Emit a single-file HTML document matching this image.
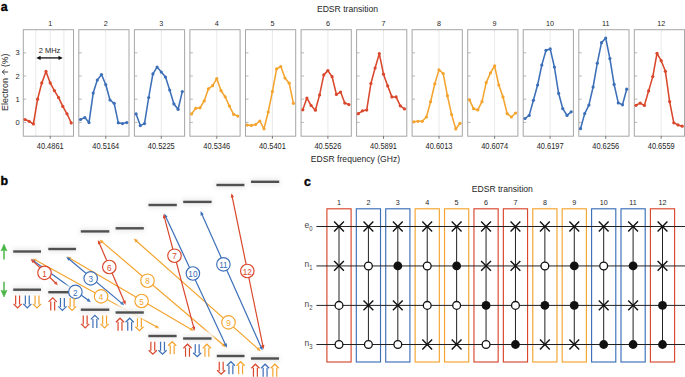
<!DOCTYPE html>
<html><head><meta charset="utf-8"><style>
html,body{margin:0;padding:0;background:#fff;width:685px;height:377px;overflow:hidden}
svg{display:block;font-family:"Liberation Sans", sans-serif}
</style></head><body>
<svg width="685" height="377" viewBox="0 0 685 377">
<text x="0.8" y="10.6" font-size="12.4" font-weight="bold" fill="#000" stroke="#000" stroke-width="0.35">a</text>
<text x="347.5" y="11.9" font-size="8.6" fill="#262626" text-anchor="middle">EDSR transition</text>
<text x="355.5" y="161.6" font-size="8.6" fill="#262626" text-anchor="middle">EDSR frequency (GHz)</text>
<text transform="translate(8.4,110.9) rotate(-90)" font-size="9.0" fill="#262626">Electron</text><text transform="translate(8.4,53.6) rotate(-90)" font-size="8.7" fill="#262626" text-anchor="end">(%)</text><path d="M8.1,72 H2.4 M4.8,69.6 L2.2,72 L4.8,74.4" fill="none" stroke="#262626" stroke-width="0.85"/>
<text x="19.6" y="124.90" font-size="7.5" fill="#262626" text-anchor="end">0</text>
<text x="19.6" y="101.70" font-size="7.5" fill="#262626" text-anchor="end">1</text>
<text x="19.6" y="78.50" font-size="7.5" fill="#262626" text-anchor="end">2</text>
<text x="19.6" y="55.30" font-size="7.5" fill="#262626" text-anchor="end">3</text>
<line x1="50.2" y1="29.7" x2="50.2" y2="136.2" stroke="#e3e3e3" stroke-width="0.8"/>
<line x1="35.8" y1="29.7" x2="35.8" y2="136.2" stroke="#e3e3e3" stroke-width="0.8"/>
<line x1="63.9" y1="29.7" x2="63.9" y2="136.2" stroke="#e3e3e3" stroke-width="0.8"/>
<rect x="23.3" y="29.7" width="50.2" height="106.5" fill="none" stroke="#a6a6a6" stroke-width="1"/>
<line x1="23.3" y1="122.4" x2="26.3" y2="122.4" stroke="#a6a6a6" stroke-width="0.8"/>
<line x1="23.3" y1="99.2" x2="26.3" y2="99.2" stroke="#a6a6a6" stroke-width="0.8"/>
<line x1="23.3" y1="76.0" x2="26.3" y2="76.0" stroke="#a6a6a6" stroke-width="0.8"/>
<line x1="23.3" y1="52.8" x2="26.3" y2="52.8" stroke="#a6a6a6" stroke-width="0.8"/>
<line x1="50.2" y1="136.2" x2="50.2" y2="138.79999999999998" stroke="#555" stroke-width="0.8"/>
<text x="50.2" y="26.0" font-size="7.2" fill="#262626" text-anchor="middle">1</text>
<text transform="translate(50.2,149.0) scale(0.9,1)" font-size="8.3" fill="#262626" text-anchor="middle">40.4861</text>
<path d="M25.0,119.5 L29.2,121.3 L33.4,124.0 L37.6,99.2 L41.8,82.9 L46.0,71.4 L50.2,82.9 L54.4,90.6 L58.6,97.6 L62.8,106.4 L67.0,113.8 L71.2,122.9" fill="none" stroke="#d9472c" stroke-width="1.55" stroke-linejoin="round"/>
<circle cx="25.0" cy="119.5" r="1.6" fill="#d9472c"/>
<circle cx="29.2" cy="121.3" r="1.6" fill="#d9472c"/>
<circle cx="33.4" cy="124.0" r="1.6" fill="#d9472c"/>
<circle cx="37.6" cy="99.2" r="1.6" fill="#d9472c"/>
<circle cx="41.8" cy="82.9" r="1.6" fill="#d9472c"/>
<circle cx="46.0" cy="71.4" r="1.6" fill="#d9472c"/>
<circle cx="50.2" cy="82.9" r="1.6" fill="#d9472c"/>
<circle cx="54.4" cy="90.6" r="1.6" fill="#d9472c"/>
<circle cx="58.6" cy="97.6" r="1.6" fill="#d9472c"/>
<circle cx="62.8" cy="106.4" r="1.6" fill="#d9472c"/>
<circle cx="67.0" cy="113.8" r="1.6" fill="#d9472c"/>
<circle cx="71.2" cy="122.9" r="1.6" fill="#d9472c"/>
<line x1="105.8" y1="29.7" x2="105.8" y2="136.2" stroke="#e3e3e3" stroke-width="0.8"/>
<rect x="78.8" y="29.7" width="50.2" height="106.5" fill="none" stroke="#a6a6a6" stroke-width="1"/>
<line x1="78.8" y1="122.4" x2="81.8" y2="122.4" stroke="#a6a6a6" stroke-width="0.8"/>
<line x1="78.8" y1="99.2" x2="81.8" y2="99.2" stroke="#a6a6a6" stroke-width="0.8"/>
<line x1="78.8" y1="76.0" x2="81.8" y2="76.0" stroke="#a6a6a6" stroke-width="0.8"/>
<line x1="78.8" y1="52.8" x2="81.8" y2="52.8" stroke="#a6a6a6" stroke-width="0.8"/>
<line x1="105.8" y1="136.2" x2="105.8" y2="138.79999999999998" stroke="#555" stroke-width="0.8"/>
<text x="105.8" y="26.0" font-size="7.2" fill="#262626" text-anchor="middle">2</text>
<text transform="translate(105.8,149.0) scale(0.9,1)" font-size="8.3" fill="#262626" text-anchor="middle">40.5164</text>
<path d="M80.5,119.5 L84.8,117.6 L89.0,122.6 L93.2,93.1 L97.3,80.1 L101.5,74.5 L105.8,84.7 L110.0,100.0 L114.2,103.3 L118.3,122.8 L122.5,123.6 L126.8,122.6" fill="none" stroke="#3c6fb8" stroke-width="1.55" stroke-linejoin="round"/>
<circle cx="80.5" cy="119.5" r="1.6" fill="#3c6fb8"/>
<circle cx="84.8" cy="117.6" r="1.6" fill="#3c6fb8"/>
<circle cx="89.0" cy="122.6" r="1.6" fill="#3c6fb8"/>
<circle cx="93.2" cy="93.1" r="1.6" fill="#3c6fb8"/>
<circle cx="97.3" cy="80.1" r="1.6" fill="#3c6fb8"/>
<circle cx="101.5" cy="74.5" r="1.6" fill="#3c6fb8"/>
<circle cx="105.8" cy="84.7" r="1.6" fill="#3c6fb8"/>
<circle cx="110.0" cy="100.0" r="1.6" fill="#3c6fb8"/>
<circle cx="114.2" cy="103.3" r="1.6" fill="#3c6fb8"/>
<circle cx="118.3" cy="122.8" r="1.6" fill="#3c6fb8"/>
<circle cx="122.5" cy="123.6" r="1.6" fill="#3c6fb8"/>
<circle cx="126.8" cy="122.6" r="1.6" fill="#3c6fb8"/>
<line x1="161.3" y1="29.7" x2="161.3" y2="136.2" stroke="#e3e3e3" stroke-width="0.8"/>
<rect x="134.4" y="29.7" width="50.2" height="106.5" fill="none" stroke="#a6a6a6" stroke-width="1"/>
<line x1="134.4" y1="122.4" x2="137.4" y2="122.4" stroke="#a6a6a6" stroke-width="0.8"/>
<line x1="134.4" y1="99.2" x2="137.4" y2="99.2" stroke="#a6a6a6" stroke-width="0.8"/>
<line x1="134.4" y1="76.0" x2="137.4" y2="76.0" stroke="#a6a6a6" stroke-width="0.8"/>
<line x1="134.4" y1="52.8" x2="137.4" y2="52.8" stroke="#a6a6a6" stroke-width="0.8"/>
<line x1="161.3" y1="136.2" x2="161.3" y2="138.79999999999998" stroke="#555" stroke-width="0.8"/>
<text x="161.3" y="26.0" font-size="7.2" fill="#262626" text-anchor="middle">3</text>
<text transform="translate(161.3,149.0) scale(0.9,1)" font-size="8.3" fill="#262626" text-anchor="middle">40.5225</text>
<path d="M136.1,113.9 L140.3,125.6 L144.5,123.6 L148.7,97.5 L152.9,73.9 L157.1,67.1 L161.3,72.1 L165.5,77.1 L169.7,90.1 L173.9,103.9 L178.1,109.3 L182.3,91.6" fill="none" stroke="#3c6fb8" stroke-width="1.55" stroke-linejoin="round"/>
<circle cx="136.1" cy="113.9" r="1.6" fill="#3c6fb8"/>
<circle cx="140.3" cy="125.6" r="1.6" fill="#3c6fb8"/>
<circle cx="144.5" cy="123.6" r="1.6" fill="#3c6fb8"/>
<circle cx="148.7" cy="97.5" r="1.6" fill="#3c6fb8"/>
<circle cx="152.9" cy="73.9" r="1.6" fill="#3c6fb8"/>
<circle cx="157.1" cy="67.1" r="1.6" fill="#3c6fb8"/>
<circle cx="161.3" cy="72.1" r="1.6" fill="#3c6fb8"/>
<circle cx="165.5" cy="77.1" r="1.6" fill="#3c6fb8"/>
<circle cx="169.7" cy="90.1" r="1.6" fill="#3c6fb8"/>
<circle cx="173.9" cy="103.9" r="1.6" fill="#3c6fb8"/>
<circle cx="178.1" cy="109.3" r="1.6" fill="#3c6fb8"/>
<circle cx="182.3" cy="91.6" r="1.6" fill="#3c6fb8"/>
<line x1="216.8" y1="29.7" x2="216.8" y2="136.2" stroke="#e3e3e3" stroke-width="0.8"/>
<rect x="189.9" y="29.7" width="50.2" height="106.5" fill="none" stroke="#a6a6a6" stroke-width="1"/>
<line x1="189.9" y1="122.4" x2="192.9" y2="122.4" stroke="#a6a6a6" stroke-width="0.8"/>
<line x1="189.9" y1="99.2" x2="192.9" y2="99.2" stroke="#a6a6a6" stroke-width="0.8"/>
<line x1="189.9" y1="76.0" x2="192.9" y2="76.0" stroke="#a6a6a6" stroke-width="0.8"/>
<line x1="189.9" y1="52.8" x2="192.9" y2="52.8" stroke="#a6a6a6" stroke-width="0.8"/>
<line x1="216.8" y1="136.2" x2="216.8" y2="138.79999999999998" stroke="#555" stroke-width="0.8"/>
<text x="216.8" y="26.0" font-size="7.2" fill="#262626" text-anchor="middle">4</text>
<text transform="translate(216.8,149.0) scale(0.9,1)" font-size="8.3" fill="#262626" text-anchor="middle">40.5346</text>
<path d="M191.6,113.9 L195.8,108.3 L200.0,107.8 L204.2,100.9 L208.4,88.8 L212.6,85.7 L216.8,78.6 L221.0,90.7 L225.2,96.8 L229.4,106.1 L233.6,114.3 L237.8,116.1" fill="none" stroke="#f4a42e" stroke-width="1.55" stroke-linejoin="round"/>
<circle cx="191.6" cy="113.9" r="1.6" fill="#f4a42e"/>
<circle cx="195.8" cy="108.3" r="1.6" fill="#f4a42e"/>
<circle cx="200.0" cy="107.8" r="1.6" fill="#f4a42e"/>
<circle cx="204.2" cy="100.9" r="1.6" fill="#f4a42e"/>
<circle cx="208.4" cy="88.8" r="1.6" fill="#f4a42e"/>
<circle cx="212.6" cy="85.7" r="1.6" fill="#f4a42e"/>
<circle cx="216.8" cy="78.6" r="1.6" fill="#f4a42e"/>
<circle cx="221.0" cy="90.7" r="1.6" fill="#f4a42e"/>
<circle cx="225.2" cy="96.8" r="1.6" fill="#f4a42e"/>
<circle cx="229.4" cy="106.1" r="1.6" fill="#f4a42e"/>
<circle cx="233.6" cy="114.3" r="1.6" fill="#f4a42e"/>
<circle cx="237.8" cy="116.1" r="1.6" fill="#f4a42e"/>
<line x1="272.4" y1="29.7" x2="272.4" y2="136.2" stroke="#e3e3e3" stroke-width="0.8"/>
<rect x="245.5" y="29.7" width="50.2" height="106.5" fill="none" stroke="#a6a6a6" stroke-width="1"/>
<line x1="245.5" y1="122.4" x2="248.5" y2="122.4" stroke="#a6a6a6" stroke-width="0.8"/>
<line x1="245.5" y1="99.2" x2="248.5" y2="99.2" stroke="#a6a6a6" stroke-width="0.8"/>
<line x1="245.5" y1="76.0" x2="248.5" y2="76.0" stroke="#a6a6a6" stroke-width="0.8"/>
<line x1="245.5" y1="52.8" x2="248.5" y2="52.8" stroke="#a6a6a6" stroke-width="0.8"/>
<line x1="272.4" y1="136.2" x2="272.4" y2="138.79999999999998" stroke="#555" stroke-width="0.8"/>
<text x="272.4" y="26.0" font-size="7.2" fill="#262626" text-anchor="middle">5</text>
<text transform="translate(272.4,149.0) scale(0.9,1)" font-size="8.3" fill="#262626" text-anchor="middle">40.5401</text>
<path d="M247.2,125.1 L251.4,125.4 L255.6,124.5 L259.8,121.0 L264.0,128.8 L268.2,112.0 L272.4,91.6 L276.6,68.9 L280.8,66.5 L285.0,78.0 L289.2,83.2 L293.4,103.3" fill="none" stroke="#f4a42e" stroke-width="1.55" stroke-linejoin="round"/>
<circle cx="247.2" cy="125.1" r="1.6" fill="#f4a42e"/>
<circle cx="251.4" cy="125.4" r="1.6" fill="#f4a42e"/>
<circle cx="255.6" cy="124.5" r="1.6" fill="#f4a42e"/>
<circle cx="259.8" cy="121.0" r="1.6" fill="#f4a42e"/>
<circle cx="264.0" cy="128.8" r="1.6" fill="#f4a42e"/>
<circle cx="268.2" cy="112.0" r="1.6" fill="#f4a42e"/>
<circle cx="272.4" cy="91.6" r="1.6" fill="#f4a42e"/>
<circle cx="276.6" cy="68.9" r="1.6" fill="#f4a42e"/>
<circle cx="280.8" cy="66.5" r="1.6" fill="#f4a42e"/>
<circle cx="285.0" cy="78.0" r="1.6" fill="#f4a42e"/>
<circle cx="289.2" cy="83.2" r="1.6" fill="#f4a42e"/>
<circle cx="293.4" cy="103.3" r="1.6" fill="#f4a42e"/>
<line x1="327.9" y1="29.7" x2="327.9" y2="136.2" stroke="#e3e3e3" stroke-width="0.8"/>
<rect x="301.1" y="29.7" width="50.2" height="106.5" fill="none" stroke="#a6a6a6" stroke-width="1"/>
<line x1="301.1" y1="122.4" x2="304.1" y2="122.4" stroke="#a6a6a6" stroke-width="0.8"/>
<line x1="301.1" y1="99.2" x2="304.1" y2="99.2" stroke="#a6a6a6" stroke-width="0.8"/>
<line x1="301.1" y1="76.0" x2="304.1" y2="76.0" stroke="#a6a6a6" stroke-width="0.8"/>
<line x1="301.1" y1="52.8" x2="304.1" y2="52.8" stroke="#a6a6a6" stroke-width="0.8"/>
<line x1="327.9" y1="136.2" x2="327.9" y2="138.79999999999998" stroke="#555" stroke-width="0.8"/>
<text x="327.9" y="26.0" font-size="7.2" fill="#262626" text-anchor="middle">6</text>
<text transform="translate(327.9,149.0) scale(0.9,1)" font-size="8.3" fill="#262626" text-anchor="middle">40.5526</text>
<path d="M302.8,109.8 L306.9,98.1 L311.1,105.5 L315.4,110.2 L319.6,94.9 L323.8,74.9 L327.9,70.6 L332.1,76.7 L336.4,94.4 L340.6,92.0 L344.8,103.1 L348.9,104.6" fill="none" stroke="#d9472c" stroke-width="1.55" stroke-linejoin="round"/>
<circle cx="302.8" cy="109.8" r="1.6" fill="#d9472c"/>
<circle cx="306.9" cy="98.1" r="1.6" fill="#d9472c"/>
<circle cx="311.1" cy="105.5" r="1.6" fill="#d9472c"/>
<circle cx="315.4" cy="110.2" r="1.6" fill="#d9472c"/>
<circle cx="319.6" cy="94.9" r="1.6" fill="#d9472c"/>
<circle cx="323.8" cy="74.9" r="1.6" fill="#d9472c"/>
<circle cx="327.9" cy="70.6" r="1.6" fill="#d9472c"/>
<circle cx="332.1" cy="76.7" r="1.6" fill="#d9472c"/>
<circle cx="336.4" cy="94.4" r="1.6" fill="#d9472c"/>
<circle cx="340.6" cy="92.0" r="1.6" fill="#d9472c"/>
<circle cx="344.8" cy="103.1" r="1.6" fill="#d9472c"/>
<circle cx="348.9" cy="104.6" r="1.6" fill="#d9472c"/>
<line x1="383.5" y1="29.7" x2="383.5" y2="136.2" stroke="#e3e3e3" stroke-width="0.8"/>
<rect x="356.6" y="29.7" width="50.2" height="106.5" fill="none" stroke="#a6a6a6" stroke-width="1"/>
<line x1="356.6" y1="122.4" x2="359.6" y2="122.4" stroke="#a6a6a6" stroke-width="0.8"/>
<line x1="356.6" y1="99.2" x2="359.6" y2="99.2" stroke="#a6a6a6" stroke-width="0.8"/>
<line x1="356.6" y1="76.0" x2="359.6" y2="76.0" stroke="#a6a6a6" stroke-width="0.8"/>
<line x1="356.6" y1="52.8" x2="359.6" y2="52.8" stroke="#a6a6a6" stroke-width="0.8"/>
<line x1="383.5" y1="136.2" x2="383.5" y2="138.79999999999998" stroke="#555" stroke-width="0.8"/>
<text x="383.5" y="26.0" font-size="7.2" fill="#262626" text-anchor="middle">7</text>
<text transform="translate(383.5,149.0) scale(0.9,1)" font-size="8.3" fill="#262626" text-anchor="middle">40.5891</text>
<path d="M358.3,113.7 L362.5,110.8 L366.7,110.1 L370.9,83.5 L375.1,68.0 L379.3,53.6 L383.5,74.2 L387.7,85.9 L391.9,96.9 L396.1,96.9 L400.3,105.8 L404.5,108.9" fill="none" stroke="#d9472c" stroke-width="1.55" stroke-linejoin="round"/>
<circle cx="358.3" cy="113.7" r="1.6" fill="#d9472c"/>
<circle cx="362.5" cy="110.8" r="1.6" fill="#d9472c"/>
<circle cx="366.7" cy="110.1" r="1.6" fill="#d9472c"/>
<circle cx="370.9" cy="83.5" r="1.6" fill="#d9472c"/>
<circle cx="375.1" cy="68.0" r="1.6" fill="#d9472c"/>
<circle cx="379.3" cy="53.6" r="1.6" fill="#d9472c"/>
<circle cx="383.5" cy="74.2" r="1.6" fill="#d9472c"/>
<circle cx="387.7" cy="85.9" r="1.6" fill="#d9472c"/>
<circle cx="391.9" cy="96.9" r="1.6" fill="#d9472c"/>
<circle cx="396.1" cy="96.9" r="1.6" fill="#d9472c"/>
<circle cx="400.3" cy="105.8" r="1.6" fill="#d9472c"/>
<circle cx="404.5" cy="108.9" r="1.6" fill="#d9472c"/>
<line x1="439.0" y1="29.7" x2="439.0" y2="136.2" stroke="#e3e3e3" stroke-width="0.8"/>
<rect x="412.1" y="29.7" width="50.2" height="106.5" fill="none" stroke="#a6a6a6" stroke-width="1"/>
<line x1="412.1" y1="122.4" x2="415.1" y2="122.4" stroke="#a6a6a6" stroke-width="0.8"/>
<line x1="412.1" y1="99.2" x2="415.1" y2="99.2" stroke="#a6a6a6" stroke-width="0.8"/>
<line x1="412.1" y1="76.0" x2="415.1" y2="76.0" stroke="#a6a6a6" stroke-width="0.8"/>
<line x1="412.1" y1="52.8" x2="415.1" y2="52.8" stroke="#a6a6a6" stroke-width="0.8"/>
<line x1="439.0" y1="136.2" x2="439.0" y2="138.79999999999998" stroke="#555" stroke-width="0.8"/>
<text x="439.0" y="26.0" font-size="7.2" fill="#262626" text-anchor="middle">8</text>
<text transform="translate(439.0,149.0) scale(0.9,1)" font-size="8.3" fill="#262626" text-anchor="middle">40.6013</text>
<path d="M413.8,121.8 L418.0,121.3 L422.2,121.3 L426.4,117.0 L430.6,101.7 L434.8,83.8 L439.0,69.9 L443.2,73.5 L447.4,95.7 L451.6,114.6 L455.8,129.0 L460.0,123.3" fill="none" stroke="#f4a42e" stroke-width="1.55" stroke-linejoin="round"/>
<circle cx="413.8" cy="121.8" r="1.6" fill="#f4a42e"/>
<circle cx="418.0" cy="121.3" r="1.6" fill="#f4a42e"/>
<circle cx="422.2" cy="121.3" r="1.6" fill="#f4a42e"/>
<circle cx="426.4" cy="117.0" r="1.6" fill="#f4a42e"/>
<circle cx="430.6" cy="101.7" r="1.6" fill="#f4a42e"/>
<circle cx="434.8" cy="83.8" r="1.6" fill="#f4a42e"/>
<circle cx="439.0" cy="69.9" r="1.6" fill="#f4a42e"/>
<circle cx="443.2" cy="73.5" r="1.6" fill="#f4a42e"/>
<circle cx="447.4" cy="95.7" r="1.6" fill="#f4a42e"/>
<circle cx="451.6" cy="114.6" r="1.6" fill="#f4a42e"/>
<circle cx="455.8" cy="129.0" r="1.6" fill="#f4a42e"/>
<circle cx="460.0" cy="123.3" r="1.6" fill="#f4a42e"/>
<line x1="494.6" y1="29.7" x2="494.6" y2="136.2" stroke="#e3e3e3" stroke-width="0.8"/>
<rect x="467.7" y="29.7" width="50.2" height="106.5" fill="none" stroke="#a6a6a6" stroke-width="1"/>
<line x1="467.7" y1="122.4" x2="470.7" y2="122.4" stroke="#a6a6a6" stroke-width="0.8"/>
<line x1="467.7" y1="99.2" x2="470.7" y2="99.2" stroke="#a6a6a6" stroke-width="0.8"/>
<line x1="467.7" y1="76.0" x2="470.7" y2="76.0" stroke="#a6a6a6" stroke-width="0.8"/>
<line x1="467.7" y1="52.8" x2="470.7" y2="52.8" stroke="#a6a6a6" stroke-width="0.8"/>
<line x1="494.6" y1="136.2" x2="494.6" y2="138.79999999999998" stroke="#555" stroke-width="0.8"/>
<text x="494.6" y="26.0" font-size="7.2" fill="#262626" text-anchor="middle">9</text>
<text transform="translate(494.6,149.0) scale(0.9,1)" font-size="8.3" fill="#262626" text-anchor="middle">40.6074</text>
<path d="M469.4,99.8 L473.6,108.7 L477.8,109.9 L482.0,101.7 L486.2,82.6 L490.4,73.0 L494.6,65.8 L498.8,85.0 L503.0,96.9 L507.2,113.7 L511.4,117.0 L515.6,113.0" fill="none" stroke="#f4a42e" stroke-width="1.55" stroke-linejoin="round"/>
<circle cx="469.4" cy="99.8" r="1.6" fill="#f4a42e"/>
<circle cx="473.6" cy="108.7" r="1.6" fill="#f4a42e"/>
<circle cx="477.8" cy="109.9" r="1.6" fill="#f4a42e"/>
<circle cx="482.0" cy="101.7" r="1.6" fill="#f4a42e"/>
<circle cx="486.2" cy="82.6" r="1.6" fill="#f4a42e"/>
<circle cx="490.4" cy="73.0" r="1.6" fill="#f4a42e"/>
<circle cx="494.6" cy="65.8" r="1.6" fill="#f4a42e"/>
<circle cx="498.8" cy="85.0" r="1.6" fill="#f4a42e"/>
<circle cx="503.0" cy="96.9" r="1.6" fill="#f4a42e"/>
<circle cx="507.2" cy="113.7" r="1.6" fill="#f4a42e"/>
<circle cx="511.4" cy="117.0" r="1.6" fill="#f4a42e"/>
<circle cx="515.6" cy="113.0" r="1.6" fill="#f4a42e"/>
<line x1="550.1" y1="29.7" x2="550.1" y2="136.2" stroke="#e3e3e3" stroke-width="0.8"/>
<rect x="523.2" y="29.7" width="50.2" height="106.5" fill="none" stroke="#a6a6a6" stroke-width="1"/>
<line x1="523.2" y1="122.4" x2="526.2" y2="122.4" stroke="#a6a6a6" stroke-width="0.8"/>
<line x1="523.2" y1="99.2" x2="526.2" y2="99.2" stroke="#a6a6a6" stroke-width="0.8"/>
<line x1="523.2" y1="76.0" x2="526.2" y2="76.0" stroke="#a6a6a6" stroke-width="0.8"/>
<line x1="523.2" y1="52.8" x2="526.2" y2="52.8" stroke="#a6a6a6" stroke-width="0.8"/>
<line x1="550.1" y1="136.2" x2="550.1" y2="138.79999999999998" stroke="#555" stroke-width="0.8"/>
<text x="550.1" y="26.0" font-size="7.2" fill="#262626" text-anchor="middle">10</text>
<text transform="translate(550.1,149.0) scale(0.9,1)" font-size="8.3" fill="#262626" text-anchor="middle">40.6197</text>
<path d="M525.0,118.5 L529.2,115.4 L533.4,100.3 L537.6,85.0 L541.8,65.1 L546.0,50.3 L550.2,48.9 L554.4,67.0 L558.6,93.3 L562.8,108.7 L567.0,115.4 L571.2,111.8" fill="none" stroke="#3c6fb8" stroke-width="1.55" stroke-linejoin="round"/>
<circle cx="525.0" cy="118.5" r="1.6" fill="#3c6fb8"/>
<circle cx="529.2" cy="115.4" r="1.6" fill="#3c6fb8"/>
<circle cx="533.4" cy="100.3" r="1.6" fill="#3c6fb8"/>
<circle cx="537.6" cy="85.0" r="1.6" fill="#3c6fb8"/>
<circle cx="541.8" cy="65.1" r="1.6" fill="#3c6fb8"/>
<circle cx="546.0" cy="50.3" r="1.6" fill="#3c6fb8"/>
<circle cx="550.2" cy="48.9" r="1.6" fill="#3c6fb8"/>
<circle cx="554.4" cy="67.0" r="1.6" fill="#3c6fb8"/>
<circle cx="558.6" cy="93.3" r="1.6" fill="#3c6fb8"/>
<circle cx="562.8" cy="108.7" r="1.6" fill="#3c6fb8"/>
<circle cx="567.0" cy="115.4" r="1.6" fill="#3c6fb8"/>
<circle cx="571.2" cy="111.8" r="1.6" fill="#3c6fb8"/>
<line x1="605.7" y1="29.7" x2="605.7" y2="136.2" stroke="#e3e3e3" stroke-width="0.8"/>
<rect x="578.8" y="29.7" width="50.2" height="106.5" fill="none" stroke="#a6a6a6" stroke-width="1"/>
<line x1="578.8" y1="122.4" x2="581.8" y2="122.4" stroke="#a6a6a6" stroke-width="0.8"/>
<line x1="578.8" y1="99.2" x2="581.8" y2="99.2" stroke="#a6a6a6" stroke-width="0.8"/>
<line x1="578.8" y1="76.0" x2="581.8" y2="76.0" stroke="#a6a6a6" stroke-width="0.8"/>
<line x1="578.8" y1="52.8" x2="581.8" y2="52.8" stroke="#a6a6a6" stroke-width="0.8"/>
<line x1="605.7" y1="136.2" x2="605.7" y2="138.79999999999998" stroke="#555" stroke-width="0.8"/>
<text x="605.7" y="26.0" font-size="7.2" fill="#262626" text-anchor="middle">11</text>
<text transform="translate(605.7,149.0) scale(0.9,1)" font-size="8.3" fill="#262626" text-anchor="middle">40.6256</text>
<path d="M580.5,128.7 L584.7,113.6 L588.9,105.1 L593.1,87.0 L597.3,63.2 L601.5,42.7 L605.7,38.0 L609.9,58.6 L614.1,84.4 L618.3,102.9 L622.5,104.8 L626.7,89.2" fill="none" stroke="#3c6fb8" stroke-width="1.55" stroke-linejoin="round"/>
<circle cx="580.5" cy="128.7" r="1.6" fill="#3c6fb8"/>
<circle cx="584.7" cy="113.6" r="1.6" fill="#3c6fb8"/>
<circle cx="588.9" cy="105.1" r="1.6" fill="#3c6fb8"/>
<circle cx="593.1" cy="87.0" r="1.6" fill="#3c6fb8"/>
<circle cx="597.3" cy="63.2" r="1.6" fill="#3c6fb8"/>
<circle cx="601.5" cy="42.7" r="1.6" fill="#3c6fb8"/>
<circle cx="605.7" cy="38.0" r="1.6" fill="#3c6fb8"/>
<circle cx="609.9" cy="58.6" r="1.6" fill="#3c6fb8"/>
<circle cx="614.1" cy="84.4" r="1.6" fill="#3c6fb8"/>
<circle cx="618.3" cy="102.9" r="1.6" fill="#3c6fb8"/>
<circle cx="622.5" cy="104.8" r="1.6" fill="#3c6fb8"/>
<circle cx="626.7" cy="89.2" r="1.6" fill="#3c6fb8"/>
<line x1="661.2" y1="29.7" x2="661.2" y2="136.2" stroke="#e3e3e3" stroke-width="0.8"/>
<rect x="634.3" y="29.7" width="50.2" height="106.5" fill="none" stroke="#a6a6a6" stroke-width="1"/>
<line x1="634.3" y1="122.4" x2="637.3" y2="122.4" stroke="#a6a6a6" stroke-width="0.8"/>
<line x1="634.3" y1="99.2" x2="637.3" y2="99.2" stroke="#a6a6a6" stroke-width="0.8"/>
<line x1="634.3" y1="76.0" x2="637.3" y2="76.0" stroke="#a6a6a6" stroke-width="0.8"/>
<line x1="634.3" y1="52.8" x2="637.3" y2="52.8" stroke="#a6a6a6" stroke-width="0.8"/>
<line x1="661.2" y1="136.2" x2="661.2" y2="138.79999999999998" stroke="#555" stroke-width="0.8"/>
<text x="661.2" y="26.0" font-size="7.2" fill="#262626" text-anchor="middle">12</text>
<text transform="translate(661.2,149.0) scale(0.9,1)" font-size="8.3" fill="#262626" text-anchor="middle">40.6559</text>
<path d="M636.0,105.3 L640.2,103.1 L644.4,105.5 L648.6,90.9 L652.8,76.6 L657.0,53.3 L661.2,60.7 L665.4,71.3 L669.6,101.5 L673.8,122.8 L678.0,124.9 L682.2,126.2" fill="none" stroke="#d9472c" stroke-width="1.55" stroke-linejoin="round"/>
<circle cx="636.0" cy="105.3" r="1.6" fill="#d9472c"/>
<circle cx="640.2" cy="103.1" r="1.6" fill="#d9472c"/>
<circle cx="644.4" cy="105.5" r="1.6" fill="#d9472c"/>
<circle cx="648.6" cy="90.9" r="1.6" fill="#d9472c"/>
<circle cx="652.8" cy="76.6" r="1.6" fill="#d9472c"/>
<circle cx="657.0" cy="53.3" r="1.6" fill="#d9472c"/>
<circle cx="661.2" cy="60.7" r="1.6" fill="#d9472c"/>
<circle cx="665.4" cy="71.3" r="1.6" fill="#d9472c"/>
<circle cx="669.6" cy="101.5" r="1.6" fill="#d9472c"/>
<circle cx="673.8" cy="122.8" r="1.6" fill="#d9472c"/>
<circle cx="678.0" cy="124.9" r="1.6" fill="#d9472c"/>
<circle cx="682.2" cy="126.2" r="1.6" fill="#d9472c"/>
<text x="49.5" y="53.0" font-size="7.5" fill="#262626" text-anchor="middle">2 MHz</text>
<line x1="38.8" y1="57.9" x2="60.3" y2="57.9" stroke="#111" stroke-width="1.3"/>
<path d="M36.3,57.9 L40.6,55.8 L40.6,60.0 Z M62.8,57.9 L58.5,55.8 L58.5,60.0 Z" fill="#111"/>
<text x="0.6" y="185.2" font-size="12.4" font-weight="bold" fill="#000" stroke="#000" stroke-width="0.35">b</text>
<line x1="34.15" y1="259.17" x2="157.75" y2="327.53" stroke="#f4a42e" stroke-width="1.2"/><path d="M32.40,258.20 L36.90,258.75 L35.25,261.72 Z" fill="#f4a42e"/><path d="M159.50,328.50 L155.00,327.95 L156.65,324.98 Z" fill="#f4a42e"/>
<line x1="68.43" y1="257.41" x2="192.27" y2="329.99" stroke="#f4a42e" stroke-width="1.2"/><path d="M66.70,256.40 L71.18,257.06 L69.46,259.99 Z" fill="#f4a42e"/><path d="M194.00,331.00 L189.52,330.34 L191.24,327.41 Z" fill="#f4a42e"/>
<line x1="100.92" y1="240.90" x2="224.48" y2="346.00" stroke="#f4a42e" stroke-width="1.2"/><path d="M99.40,239.60 L103.70,241.03 L101.50,243.62 Z" fill="#f4a42e"/><path d="M226.00,347.30 L221.70,345.87 L223.90,343.28 Z" fill="#f4a42e"/>
<line x1="135.20" y1="239.93" x2="259.40" y2="350.07" stroke="#f4a42e" stroke-width="1.2"/><path d="M133.70,238.60 L137.97,240.11 L135.71,242.66 Z" fill="#f4a42e"/><path d="M260.90,351.40 L256.63,349.89 L258.89,347.34 Z" fill="#f4a42e"/>
<line x1="32.62" y1="260.17" x2="89.38" y2="301.03" stroke="#3c6fb8" stroke-width="1.2"/><path d="M31.00,259.00 L35.40,260.07 L33.42,262.83 Z" fill="#3c6fb8"/><path d="M91.00,302.20 L86.60,301.13 L88.58,298.37 Z" fill="#3c6fb8"/>
<line x1="67.74" y1="258.08" x2="122.86" y2="304.12" stroke="#3c6fb8" stroke-width="1.2"/><path d="M66.20,256.80 L70.51,258.19 L68.33,260.80 Z" fill="#3c6fb8"/><path d="M124.40,305.40 L120.09,304.01 L122.27,301.40 Z" fill="#3c6fb8"/>
<line x1="165.15" y1="215.41" x2="226.15" y2="345.89" stroke="#3c6fb8" stroke-width="1.2"/><path d="M164.30,213.60 L167.62,216.68 L164.54,218.12 Z" fill="#3c6fb8"/><path d="M227.00,347.70 L223.68,344.62 L226.76,343.18 Z" fill="#3c6fb8"/>
<line x1="201.31" y1="212.93" x2="261.79" y2="348.77" stroke="#3c6fb8" stroke-width="1.2"/><path d="M200.50,211.10 L203.76,214.25 L200.66,215.63 Z" fill="#3c6fb8"/><path d="M262.60,350.60 L259.34,347.45 L262.44,346.07 Z" fill="#3c6fb8"/>
<line x1="32.04" y1="260.19" x2="56.66" y2="284.01" stroke="#d9472c" stroke-width="1.2"/><path d="M30.60,258.80 L34.80,260.50 L32.44,262.94 Z" fill="#d9472c"/><path d="M58.10,285.40 L53.90,283.70 L56.26,281.26 Z" fill="#d9472c"/>
<line x1="98.69" y1="241.74" x2="124.91" y2="303.06" stroke="#d9472c" stroke-width="1.2"/><path d="M97.90,239.90 L101.11,243.09 L97.99,244.43 Z" fill="#d9472c"/><path d="M125.70,304.90 L122.49,301.71 L125.61,300.37 Z" fill="#d9472c"/>
<line x1="164.01" y1="215.83" x2="194.09" y2="328.97" stroke="#d9472c" stroke-width="1.2"/><path d="M163.50,213.90 L166.22,217.52 L162.94,218.40 Z" fill="#d9472c"/><path d="M194.60,330.90 L191.88,327.28 L195.16,326.40 Z" fill="#d9472c"/>
<line x1="231.90" y1="195.26" x2="263.20" y2="347.34" stroke="#d9472c" stroke-width="1.2"/><path d="M231.50,193.30 L234.01,197.07 L230.68,197.76 Z" fill="#d9472c"/><path d="M263.60,349.30 L261.09,345.53 L264.42,344.84 Z" fill="#d9472c"/>
<defs><filter id="bl" x="-50%" y="-100%" width="200%" height="300%"><feGaussianBlur stdDeviation="1.6"/></filter><filter id="bl2" x="-50%" y="-100%" width="200%" height="300%"><feGaussianBlur stdDeviation="2"/></filter></defs>
<rect x="11.2" y="244.5" width="31.8" height="14" fill="#fff" fill-opacity="0.85" filter="url(#bl)"/>
<rect x="12.2" y="248.0" width="29.8" height="7" fill="#000" fill-opacity="0.07" filter="url(#bl2)"/>
<line x1="13.2" y1="251.5" x2="41.0" y2="251.5" stroke="#505050" stroke-width="2.4"/>
<rect x="46.3" y="242.0" width="31.7" height="14" fill="#fff" fill-opacity="0.85" filter="url(#bl)"/>
<rect x="47.3" y="245.5" width="29.7" height="7" fill="#000" fill-opacity="0.07" filter="url(#bl2)"/>
<line x1="48.3" y1="249.0" x2="76.0" y2="249.0" stroke="#505050" stroke-width="2.4"/>
<rect x="78.8" y="224.4" width="32.5" height="14" fill="#fff" fill-opacity="0.85" filter="url(#bl)"/>
<rect x="79.8" y="227.9" width="30.5" height="7" fill="#000" fill-opacity="0.07" filter="url(#bl2)"/>
<line x1="80.8" y1="231.4" x2="109.3" y2="231.4" stroke="#505050" stroke-width="2.4"/>
<rect x="113.6" y="221.3" width="32.2" height="14" fill="#fff" fill-opacity="0.85" filter="url(#bl)"/>
<rect x="114.6" y="224.8" width="30.2" height="7" fill="#000" fill-opacity="0.07" filter="url(#bl2)"/>
<line x1="115.6" y1="228.3" x2="143.8" y2="228.3" stroke="#505050" stroke-width="2.4"/>
<rect x="146.5" y="198.0" width="32.3" height="14" fill="#fff" fill-opacity="0.85" filter="url(#bl)"/>
<rect x="147.5" y="201.5" width="30.3" height="7" fill="#000" fill-opacity="0.07" filter="url(#bl2)"/>
<line x1="148.5" y1="205.0" x2="176.8" y2="205.0" stroke="#505050" stroke-width="2.4"/>
<rect x="181.2" y="194.9" width="32.4" height="14" fill="#fff" fill-opacity="0.85" filter="url(#bl)"/>
<rect x="182.2" y="198.4" width="30.4" height="7" fill="#000" fill-opacity="0.07" filter="url(#bl2)"/>
<line x1="183.2" y1="201.9" x2="211.6" y2="201.9" stroke="#505050" stroke-width="2.4"/>
<rect x="214.4" y="178.0" width="32.0" height="14" fill="#fff" fill-opacity="0.85" filter="url(#bl)"/>
<rect x="215.4" y="181.5" width="30.0" height="7" fill="#000" fill-opacity="0.07" filter="url(#bl2)"/>
<line x1="216.4" y1="185.0" x2="244.4" y2="185.0" stroke="#505050" stroke-width="2.4"/>
<rect x="249.0" y="174.8" width="32.2" height="14" fill="#fff" fill-opacity="0.85" filter="url(#bl)"/>
<rect x="250.0" y="178.3" width="30.2" height="7" fill="#000" fill-opacity="0.07" filter="url(#bl2)"/>
<line x1="251.0" y1="181.8" x2="279.2" y2="181.8" stroke="#505050" stroke-width="2.4"/>
<rect x="11.2" y="282.7" width="31.8" height="14" fill="#fff" fill-opacity="0.85" filter="url(#bl)"/>
<rect x="12.2" y="286.2" width="29.8" height="7" fill="#000" fill-opacity="0.07" filter="url(#bl2)"/>
<line x1="13.2" y1="289.7" x2="41.0" y2="289.7" stroke="#505050" stroke-width="2.4"/>
<rect x="46.3" y="285.2" width="31.7" height="14" fill="#fff" fill-opacity="0.85" filter="url(#bl)"/>
<rect x="47.3" y="288.7" width="29.7" height="7" fill="#000" fill-opacity="0.07" filter="url(#bl2)"/>
<line x1="48.3" y1="292.2" x2="76.0" y2="292.2" stroke="#505050" stroke-width="2.4"/>
<rect x="78.8" y="302.7" width="32.5" height="14" fill="#fff" fill-opacity="0.85" filter="url(#bl)"/>
<rect x="79.8" y="306.2" width="30.5" height="7" fill="#000" fill-opacity="0.07" filter="url(#bl2)"/>
<line x1="80.8" y1="309.7" x2="109.3" y2="309.7" stroke="#505050" stroke-width="2.4"/>
<rect x="113.6" y="305.5" width="32.2" height="14" fill="#fff" fill-opacity="0.85" filter="url(#bl)"/>
<rect x="114.6" y="309.0" width="30.2" height="7" fill="#000" fill-opacity="0.07" filter="url(#bl2)"/>
<line x1="115.6" y1="312.5" x2="143.8" y2="312.5" stroke="#505050" stroke-width="2.4"/>
<rect x="146.4" y="329.0" width="32.2" height="14" fill="#fff" fill-opacity="0.85" filter="url(#bl)"/>
<rect x="147.4" y="332.5" width="30.2" height="7" fill="#000" fill-opacity="0.07" filter="url(#bl2)"/>
<line x1="148.4" y1="336.0" x2="176.6" y2="336.0" stroke="#505050" stroke-width="2.4"/>
<rect x="181.1" y="331.5" width="32.4" height="14" fill="#fff" fill-opacity="0.85" filter="url(#bl)"/>
<rect x="182.1" y="335.0" width="30.4" height="7" fill="#000" fill-opacity="0.07" filter="url(#bl2)"/>
<line x1="183.1" y1="338.5" x2="211.5" y2="338.5" stroke="#505050" stroke-width="2.4"/>
<rect x="214.8" y="349.0" width="31.7" height="14" fill="#fff" fill-opacity="0.85" filter="url(#bl)"/>
<rect x="215.8" y="352.5" width="29.7" height="7" fill="#000" fill-opacity="0.07" filter="url(#bl2)"/>
<line x1="216.8" y1="356.0" x2="244.5" y2="356.0" stroke="#505050" stroke-width="2.4"/>
<rect x="249.0" y="351.5" width="32.0" height="14" fill="#fff" fill-opacity="0.85" filter="url(#bl)"/>
<rect x="250.0" y="355.0" width="30.0" height="7" fill="#000" fill-opacity="0.07" filter="url(#bl2)"/>
<line x1="251.0" y1="358.5" x2="279.0" y2="358.5" stroke="#505050" stroke-width="2.4"/>
<circle cx="101.1" cy="296.4" r="6.75" fill="#fff" stroke="#f4a42e" stroke-width="1.15"/>
<text transform="translate(101.1,300.15) scale(0.88,1)" font-size="9.3" fill="#f4a42e" text-anchor="middle">4</text>
<circle cx="141.6" cy="301.0" r="6.75" fill="#fff" stroke="#f4a42e" stroke-width="1.15"/>
<text transform="translate(141.6,304.75) scale(0.88,1)" font-size="9.3" fill="#f4a42e" text-anchor="middle">5</text>
<circle cx="147.5" cy="280.7" r="6.75" fill="#fff" stroke="#f4a42e" stroke-width="1.15"/>
<text transform="translate(147.5,284.45) scale(0.88,1)" font-size="9.3" fill="#f4a42e" text-anchor="middle">8</text>
<circle cx="228.5" cy="322.4" r="6.75" fill="#fff" stroke="#f4a42e" stroke-width="1.15"/>
<text transform="translate(228.5,326.15) scale(0.88,1)" font-size="9.3" fill="#f4a42e" text-anchor="middle">9</text>
<circle cx="75.4" cy="291.9" r="6.75" fill="#fff" stroke="#3c6fb8" stroke-width="1.15"/>
<text transform="translate(75.4,295.65) scale(0.88,1)" font-size="9.3" fill="#3c6fb8" text-anchor="middle">2</text>
<circle cx="90.7" cy="278.4" r="6.75" fill="#fff" stroke="#3c6fb8" stroke-width="1.15"/>
<text transform="translate(90.7,282.15) scale(0.88,1)" font-size="9.3" fill="#3c6fb8" text-anchor="middle">3</text>
<circle cx="192.9" cy="273.5" r="6.75" fill="#fff" stroke="#3c6fb8" stroke-width="1.15"/>
<text transform="translate(192.9,277.25) scale(0.88,1)" font-size="9.3" fill="#3c6fb8" text-anchor="middle">10</text>
<circle cx="223.4" cy="264.3" r="6.75" fill="#fff" stroke="#3c6fb8" stroke-width="1.15"/>
<text transform="translate(223.4,268.05) scale(0.88,1)" font-size="9.3" fill="#3c6fb8" text-anchor="middle">11</text>
<circle cx="44.5" cy="272.8" r="6.75" fill="#fff" stroke="#d9472c" stroke-width="1.15"/>
<text transform="translate(44.5,276.55) scale(0.88,1)" font-size="9.3" fill="#d9472c" text-anchor="middle">1</text>
<circle cx="109.3" cy="267.0" r="6.75" fill="#fff" stroke="#d9472c" stroke-width="1.15"/>
<text transform="translate(109.3,270.75) scale(0.88,1)" font-size="9.3" fill="#d9472c" text-anchor="middle">6</text>
<circle cx="174.5" cy="255.7" r="6.75" fill="#fff" stroke="#d9472c" stroke-width="1.15"/>
<text transform="translate(174.5,259.45) scale(0.88,1)" font-size="9.3" fill="#d9472c" text-anchor="middle">7</text>
<circle cx="247.3" cy="271.0" r="6.75" fill="#fff" stroke="#d9472c" stroke-width="1.15"/>
<text transform="translate(247.3,274.75) scale(0.88,1)" font-size="9.3" fill="#d9472c" text-anchor="middle">12</text>
<path d="M15.65,295.40 V304.40 M19.55,295.40 V304.40 M13.50,303.90 L17.60,307.90 L21.70,303.90" fill="none" stroke="#d9472c" stroke-width="1.2"/>
<path d="M25.35,295.40 V304.40 M29.25,295.40 V304.40 M23.20,303.90 L27.30,307.90 L31.40,303.90" fill="none" stroke="#3c6fb8" stroke-width="1.2"/>
<path d="M35.05,295.40 V304.40 M38.95,295.40 V304.40 M32.90,303.90 L37.00,307.90 L41.10,303.90" fill="none" stroke="#f4a42e" stroke-width="1.2"/>
<path d="M50.75,310.40 V301.40 M54.65,310.40 V301.40 M48.60,301.90 L52.70,297.90 L56.80,301.90" fill="none" stroke="#d9472c" stroke-width="1.2"/>
<path d="M60.45,297.90 V306.90 M64.35,297.90 V306.90 M58.30,306.40 L62.40,310.40 L66.50,306.40" fill="none" stroke="#3c6fb8" stroke-width="1.2"/>
<path d="M70.15,297.90 V306.90 M74.05,297.90 V306.90 M68.00,306.40 L72.10,310.40 L76.20,306.40" fill="none" stroke="#f4a42e" stroke-width="1.2"/>
<path d="M83.25,315.40 V324.40 M87.15,315.40 V324.40 M81.10,323.90 L85.20,327.90 L89.30,323.90" fill="none" stroke="#d9472c" stroke-width="1.2"/>
<path d="M92.95,327.90 V318.90 M96.85,327.90 V318.90 M90.80,319.40 L94.90,315.40 L99.00,319.40" fill="none" stroke="#3c6fb8" stroke-width="1.2"/>
<path d="M102.65,315.40 V324.40 M106.55,315.40 V324.40 M100.50,323.90 L104.60,327.90 L108.70,323.90" fill="none" stroke="#f4a42e" stroke-width="1.2"/>
<path d="M118.05,330.70 V321.70 M121.95,330.70 V321.70 M115.90,322.20 L120.00,318.20 L124.10,322.20" fill="none" stroke="#d9472c" stroke-width="1.2"/>
<path d="M127.75,330.70 V321.70 M131.65,330.70 V321.70 M125.60,322.20 L129.70,318.20 L133.80,322.20" fill="none" stroke="#3c6fb8" stroke-width="1.2"/>
<path d="M137.45,318.20 V327.20 M141.35,318.20 V327.20 M135.30,326.70 L139.40,330.70 L143.50,326.70" fill="none" stroke="#f4a42e" stroke-width="1.2"/>
<path d="M150.85,341.70 V350.70 M154.75,341.70 V350.70 M148.70,350.20 L152.80,354.20 L156.90,350.20" fill="none" stroke="#d9472c" stroke-width="1.2"/>
<path d="M160.55,341.70 V350.70 M164.45,341.70 V350.70 M158.40,350.20 L162.50,354.20 L166.60,350.20" fill="none" stroke="#3c6fb8" stroke-width="1.2"/>
<path d="M170.25,354.20 V345.20 M174.15,354.20 V345.20 M168.10,345.70 L172.20,341.70 L176.30,345.70" fill="none" stroke="#f4a42e" stroke-width="1.2"/>
<path d="M185.55,356.70 V347.70 M189.45,356.70 V347.70 M183.40,348.20 L187.50,344.20 L191.60,348.20" fill="none" stroke="#d9472c" stroke-width="1.2"/>
<path d="M195.25,344.20 V353.20 M199.15,344.20 V353.20 M193.10,352.70 L197.20,356.70 L201.30,352.70" fill="none" stroke="#3c6fb8" stroke-width="1.2"/>
<path d="M204.95,356.70 V347.70 M208.85,356.70 V347.70 M202.80,348.20 L206.90,344.20 L211.00,348.20" fill="none" stroke="#f4a42e" stroke-width="1.2"/>
<path d="M219.25,361.70 V370.70 M223.15,361.70 V370.70 M217.10,370.20 L221.20,374.20 L225.30,370.20" fill="none" stroke="#d9472c" stroke-width="1.2"/>
<path d="M228.95,374.20 V365.20 M232.85,374.20 V365.20 M226.80,365.70 L230.90,361.70 L235.00,365.70" fill="none" stroke="#3c6fb8" stroke-width="1.2"/>
<path d="M238.65,374.20 V365.20 M242.55,374.20 V365.20 M236.50,365.70 L240.60,361.70 L244.70,365.70" fill="none" stroke="#f4a42e" stroke-width="1.2"/>
<path d="M253.45,376.70 V367.70 M257.35,376.70 V367.70 M251.30,368.20 L255.40,364.20 L259.50,368.20" fill="none" stroke="#d9472c" stroke-width="1.2"/>
<path d="M263.15,376.70 V367.70 M267.05,376.70 V367.70 M261.00,368.20 L265.10,364.20 L269.20,368.20" fill="none" stroke="#3c6fb8" stroke-width="1.2"/>
<path d="M272.85,376.70 V367.70 M276.75,376.70 V367.70 M270.70,368.20 L274.80,364.20 L278.90,368.20" fill="none" stroke="#f4a42e" stroke-width="1.2"/>
<line x1="4" y1="248" x2="4" y2="259.6" stroke="#4cb648" stroke-width="1.5"/>
<path d="M4,244.1 L7,250.9 L4,249.8 L1,250.9 Z" fill="#4cb648" stroke="#4cb648" stroke-width="0.6" stroke-linejoin="round"/>
<line x1="4" y1="281.8" x2="4" y2="293" stroke="#4cb648" stroke-width="1.5"/>
<path d="M4,297 L7,290.2 L4,291.3 L1,290.2 Z" fill="#4cb648" stroke="#4cb648" stroke-width="0.6" stroke-linejoin="round"/>
<text x="304.1" y="185.5" font-size="12.4" font-weight="bold" fill="#000" stroke="#000" stroke-width="0.35">c</text>
<text x="502.3" y="192.3" font-size="8.6" fill="#262626" text-anchor="middle">EDSR transition</text>
<text transform="translate(304.6,228.0) scale(0.9,1)" font-size="9.4" fill="#444">e<tspan font-size="6.6" dy="2.7">0</tspan></text>
<text transform="translate(304.6,267.4) scale(0.9,1)" font-size="9.4" fill="#444">n<tspan font-size="6.6" dy="2.7">1</tspan></text>
<text transform="translate(304.6,306.9) scale(0.9,1)" font-size="9.4" fill="#444">n<tspan font-size="6.6" dy="2.7">2</tspan></text>
<text transform="translate(304.6,346.0) scale(0.9,1)" font-size="9.4" fill="#444">n<tspan font-size="6.6" dy="2.7">3</tspan></text>
<rect x="326.90" y="208.8" width="24.2" height="153.2" fill="none" stroke="#d9472c" stroke-width="1.15"/>
<rect x="356.31" y="208.8" width="24.2" height="153.2" fill="none" stroke="#3c6fb8" stroke-width="1.15"/>
<rect x="385.72" y="208.8" width="24.2" height="153.2" fill="none" stroke="#3c6fb8" stroke-width="1.15"/>
<rect x="415.13" y="208.8" width="24.2" height="153.2" fill="none" stroke="#f4a42e" stroke-width="1.15"/>
<rect x="444.54" y="208.8" width="24.2" height="153.2" fill="none" stroke="#f4a42e" stroke-width="1.15"/>
<rect x="473.95" y="208.8" width="24.2" height="153.2" fill="none" stroke="#d9472c" stroke-width="1.15"/>
<rect x="503.36" y="208.8" width="24.2" height="153.2" fill="none" stroke="#d9472c" stroke-width="1.15"/>
<rect x="532.77" y="208.8" width="24.2" height="153.2" fill="none" stroke="#f4a42e" stroke-width="1.15"/>
<rect x="562.18" y="208.8" width="24.2" height="153.2" fill="none" stroke="#f4a42e" stroke-width="1.15"/>
<rect x="591.59" y="208.8" width="24.2" height="153.2" fill="none" stroke="#3c6fb8" stroke-width="1.15"/>
<rect x="621.00" y="208.8" width="24.2" height="153.2" fill="none" stroke="#3c6fb8" stroke-width="1.15"/>
<rect x="650.41" y="208.8" width="24.2" height="153.2" fill="none" stroke="#d9472c" stroke-width="1.15"/>
<line x1="316.4" y1="226.5" x2="685" y2="226.5" stroke="#222" stroke-width="1"/>
<line x1="316.4" y1="265.95" x2="685" y2="265.95" stroke="#222" stroke-width="1"/>
<line x1="316.4" y1="305.4" x2="685" y2="305.4" stroke="#222" stroke-width="1"/>
<line x1="316.4" y1="344.5" x2="685" y2="344.5" stroke="#222" stroke-width="1"/>
<text x="339.0" y="204.8" font-size="7.2" fill="#262626" text-anchor="middle">1</text>
<line x1="339.00" y1="226.5" x2="339.00" y2="344.5" stroke="#222" stroke-width="1"/>
<path d="M334.10,221.60 L343.90,231.40 M334.10,231.40 L343.90,221.60" stroke="#111" stroke-width="1.4"/>
<path d="M334.10,261.05 L343.90,270.85 M334.10,270.85 L343.90,261.05" stroke="#111" stroke-width="1.4"/>
<circle cx="339.00" cy="305.4" r="3.9" fill="#fff" stroke="#111" stroke-width="1.3"/>
<circle cx="339.00" cy="344.5" r="3.9" fill="#fff" stroke="#111" stroke-width="1.3"/>
<text x="368.4" y="204.8" font-size="7.2" fill="#262626" text-anchor="middle">2</text>
<line x1="368.41" y1="226.5" x2="368.41" y2="344.5" stroke="#222" stroke-width="1"/>
<path d="M363.51,221.60 L373.31,231.40 M363.51,231.40 L373.31,221.60" stroke="#111" stroke-width="1.4"/>
<circle cx="368.41" cy="265.95" r="3.9" fill="#fff" stroke="#111" stroke-width="1.3"/>
<path d="M363.51,300.50 L373.31,310.30 M363.51,310.30 L373.31,300.50" stroke="#111" stroke-width="1.4"/>
<circle cx="368.41" cy="344.5" r="3.9" fill="#fff" stroke="#111" stroke-width="1.3"/>
<text x="397.8" y="204.8" font-size="7.2" fill="#262626" text-anchor="middle">3</text>
<line x1="397.82" y1="226.5" x2="397.82" y2="344.5" stroke="#222" stroke-width="1"/>
<path d="M392.92,221.60 L402.72,231.40 M392.92,231.40 L402.72,221.60" stroke="#111" stroke-width="1.4"/>
<circle cx="397.82" cy="265.95" r="4.4" fill="#111"/>
<path d="M392.92,300.50 L402.72,310.30 M392.92,310.30 L402.72,300.50" stroke="#111" stroke-width="1.4"/>
<circle cx="397.82" cy="344.5" r="3.9" fill="#fff" stroke="#111" stroke-width="1.3"/>
<text x="427.2" y="204.8" font-size="7.2" fill="#262626" text-anchor="middle">4</text>
<line x1="427.23" y1="226.5" x2="427.23" y2="344.5" stroke="#222" stroke-width="1"/>
<path d="M422.33,221.60 L432.13,231.40 M422.33,231.40 L432.13,221.60" stroke="#111" stroke-width="1.4"/>
<circle cx="427.23" cy="265.95" r="3.9" fill="#fff" stroke="#111" stroke-width="1.3"/>
<circle cx="427.23" cy="305.4" r="3.9" fill="#fff" stroke="#111" stroke-width="1.3"/>
<path d="M422.33,339.60 L432.13,349.40 M422.33,349.40 L432.13,339.60" stroke="#111" stroke-width="1.4"/>
<text x="456.6" y="204.8" font-size="7.2" fill="#262626" text-anchor="middle">5</text>
<line x1="456.64" y1="226.5" x2="456.64" y2="344.5" stroke="#222" stroke-width="1"/>
<path d="M451.74,221.60 L461.54,231.40 M451.74,231.40 L461.54,221.60" stroke="#111" stroke-width="1.4"/>
<circle cx="456.64" cy="265.95" r="4.4" fill="#111"/>
<circle cx="456.64" cy="305.4" r="3.9" fill="#fff" stroke="#111" stroke-width="1.3"/>
<path d="M451.74,339.60 L461.54,349.40 M451.74,349.40 L461.54,339.60" stroke="#111" stroke-width="1.4"/>
<text x="486.1" y="204.8" font-size="7.2" fill="#262626" text-anchor="middle">6</text>
<line x1="486.05" y1="226.5" x2="486.05" y2="344.5" stroke="#222" stroke-width="1"/>
<path d="M481.15,221.60 L490.95,231.40 M481.15,231.40 L490.95,221.60" stroke="#111" stroke-width="1.4"/>
<path d="M481.15,261.05 L490.95,270.85 M481.15,270.85 L490.95,261.05" stroke="#111" stroke-width="1.4"/>
<circle cx="486.05" cy="305.4" r="4.4" fill="#111"/>
<circle cx="486.05" cy="344.5" r="3.9" fill="#fff" stroke="#111" stroke-width="1.3"/>
<text x="515.5" y="204.8" font-size="7.2" fill="#262626" text-anchor="middle">7</text>
<line x1="515.46" y1="226.5" x2="515.46" y2="344.5" stroke="#222" stroke-width="1"/>
<path d="M510.56,221.60 L520.36,231.40 M510.56,231.40 L520.36,221.60" stroke="#111" stroke-width="1.4"/>
<path d="M510.56,261.05 L520.36,270.85 M510.56,270.85 L520.36,261.05" stroke="#111" stroke-width="1.4"/>
<circle cx="515.46" cy="305.4" r="3.9" fill="#fff" stroke="#111" stroke-width="1.3"/>
<circle cx="515.46" cy="344.5" r="4.4" fill="#111"/>
<text x="544.9" y="204.8" font-size="7.2" fill="#262626" text-anchor="middle">8</text>
<line x1="544.87" y1="226.5" x2="544.87" y2="344.5" stroke="#222" stroke-width="1"/>
<path d="M539.97,221.60 L549.77,231.40 M539.97,231.40 L549.77,221.60" stroke="#111" stroke-width="1.4"/>
<circle cx="544.87" cy="265.95" r="3.9" fill="#fff" stroke="#111" stroke-width="1.3"/>
<circle cx="544.87" cy="305.4" r="4.4" fill="#111"/>
<path d="M539.97,339.60 L549.77,349.40 M539.97,349.40 L549.77,339.60" stroke="#111" stroke-width="1.4"/>
<text x="574.3" y="204.8" font-size="7.2" fill="#262626" text-anchor="middle">9</text>
<line x1="574.28" y1="226.5" x2="574.28" y2="344.5" stroke="#222" stroke-width="1"/>
<path d="M569.38,221.60 L579.18,231.40 M569.38,231.40 L579.18,221.60" stroke="#111" stroke-width="1.4"/>
<circle cx="574.28" cy="265.95" r="4.4" fill="#111"/>
<circle cx="574.28" cy="305.4" r="4.4" fill="#111"/>
<path d="M569.38,339.60 L579.18,349.40 M569.38,349.40 L579.18,339.60" stroke="#111" stroke-width="1.4"/>
<text x="603.7" y="204.8" font-size="7.2" fill="#262626" text-anchor="middle">10</text>
<line x1="603.69" y1="226.5" x2="603.69" y2="344.5" stroke="#222" stroke-width="1"/>
<path d="M598.79,221.60 L608.59,231.40 M598.79,231.40 L608.59,221.60" stroke="#111" stroke-width="1.4"/>
<circle cx="603.69" cy="265.95" r="3.9" fill="#fff" stroke="#111" stroke-width="1.3"/>
<path d="M598.79,300.50 L608.59,310.30 M598.79,310.30 L608.59,300.50" stroke="#111" stroke-width="1.4"/>
<circle cx="603.69" cy="344.5" r="4.4" fill="#111"/>
<text x="633.1" y="204.8" font-size="7.2" fill="#262626" text-anchor="middle">11</text>
<line x1="633.10" y1="226.5" x2="633.10" y2="344.5" stroke="#222" stroke-width="1"/>
<path d="M628.20,221.60 L638.00,231.40 M628.20,231.40 L638.00,221.60" stroke="#111" stroke-width="1.4"/>
<circle cx="633.10" cy="265.95" r="4.4" fill="#111"/>
<path d="M628.20,300.50 L638.00,310.30 M628.20,310.30 L638.00,300.50" stroke="#111" stroke-width="1.4"/>
<circle cx="633.10" cy="344.5" r="4.4" fill="#111"/>
<text x="662.5" y="204.8" font-size="7.2" fill="#262626" text-anchor="middle">12</text>
<line x1="662.51" y1="226.5" x2="662.51" y2="344.5" stroke="#222" stroke-width="1"/>
<path d="M657.61,221.60 L667.41,231.40 M657.61,231.40 L667.41,221.60" stroke="#111" stroke-width="1.4"/>
<path d="M657.61,261.05 L667.41,270.85 M657.61,270.85 L667.41,261.05" stroke="#111" stroke-width="1.4"/>
<circle cx="662.51" cy="305.4" r="4.4" fill="#111"/>
<circle cx="662.51" cy="344.5" r="4.4" fill="#111"/>
</svg>
</body></html>
